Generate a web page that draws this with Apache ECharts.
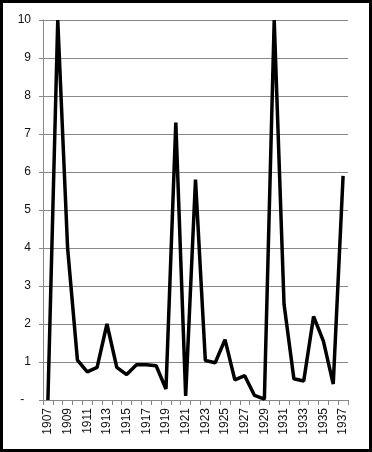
<!DOCTYPE html>
<html><head><meta charset="utf-8">
<script src="https://cdn.jsdelivr.net/npm/echarts@6/dist/echarts.min.js"></script>
<style>html,body{margin:0;padding:0;background:#fff}#c{width:372px;height:452px}</style>
</head><body><div id="c"></div>
<script>
var years = ['1907','1908','1909','1910','1911','1912','1913','1914','1915','1916','1917','1918','1919','1920','1921','1922','1923','1924','1925','1926','1927','1928','1929','1930','1931','1932','1933','1934','1935','1936','1937'];
var values = [0,10,4.0,1.05,0.74,0.86,2.0,0.86,0.67,0.93,0.93,0.9,0.29,7.3,0.11,5.8,1.04,0.98,1.59,0.53,0.64,0.12,0.02,10,2.52,0.56,0.5,2.2,1.55,0.42,5.9];
var yTicks = [0,1,2,3,4,5,6,7,8,9,10];

var chart = echarts.init(document.getElementById('c'));
chart.setOption({
  animation:false,
  backgroundColor:'#fff',
  graphic:[{type:'rect',shape:{x:1.5,y:1.5,width:369,height:449},style:{fill:'none',stroke:'#000',lineWidth:3},z:100}],
  grid:{left:43,right:24,top:20,bottom:52},
  xAxis:{
    type:'category',data:years,boundaryGap:true,
    axisLine:{lineStyle:{color:'#888',width:1}},
    axisTick:{show:true,interval:0,length:5,lineStyle:{color:'#888'}},
    axisLabel:{interval:1,rotate:90,color:'#111',fontSize:12,fontFamily:'Liberation Sans',margin:8}
  },
  yAxis:{
    type:'value',min:yTicks[0],max:yTicks[yTicks.length-1],interval:1,
    axisLine:{show:true,lineStyle:{color:'#888',width:1}},
    axisTick:{show:true,length:4,lineStyle:{color:'#888'}},
    splitLine:{lineStyle:{color:'#888',width:1}},
    axisLabel:{color:'#111',fontSize:12,fontFamily:'Liberation Sans',margin:12,
      formatter:function(v){return v===0?'-  ':String(v);}}
  },
  series:[{type:'line',data:values,symbol:'none',lineStyle:{color:'#000',width:3.5},itemStyle:{color:'#000'}}]
});
</script></body></html>
